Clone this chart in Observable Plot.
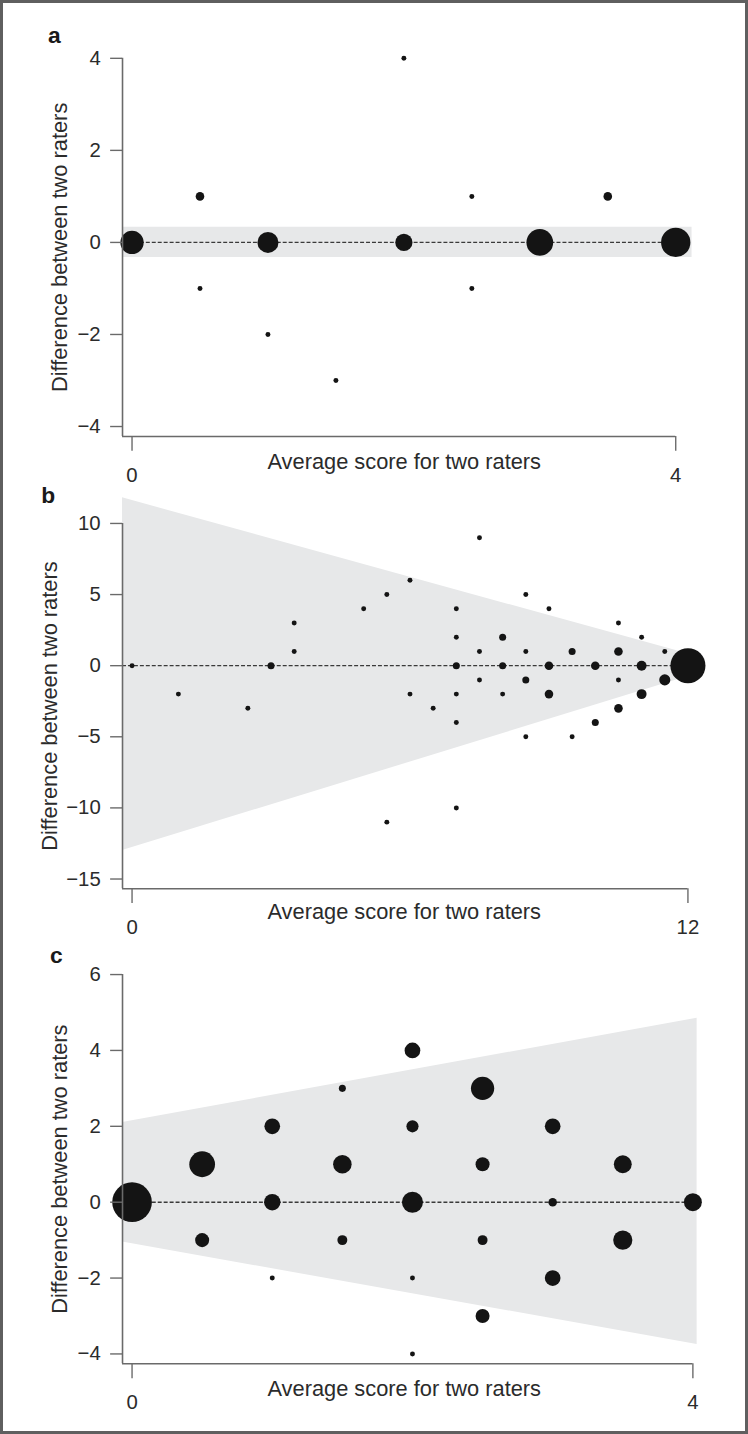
<!DOCTYPE html>
<html>
<head>
<meta charset="utf-8">
<script src="https://cdn.jsdelivr.net/npm/d3@7"></script>
<script src="https://cdn.jsdelivr.net/npm/@observablehq/plot@0.6"></script>
<style>
  html, body { margin: 0; padding: 0; background: #fff; }
  #frame { position: relative; width: 748px; height: 1434px; box-sizing: border-box; border: 3px solid #5f5f5f; overflow: hidden; background: #fff; }
  #frame svg { position: absolute; left: -3px; overflow: visible; }
</style>
</head>
<body>
<div id="frame"></div>
<script>
// ---------- Panel a ----------
const aX    = [0, 0.5, 0.5, 1, 1, 1.5, 2, 2, 2.5, 2.5, 3, 3.5, 4];
const aDiff = [0, 1, -1, 0, -2, -3, 4, 0, 1, -1, 0, 1, 0];
const aN    = [22, 3, 1, 18, 1, 1, 1, 12, 1, 1, 29, 3, 35];
const aBandX = [-0.07, 4.12];
const aUpper = [0.33, 0.33];
const aLower = [-0.33, -0.33];
const aXTicks = [0, 4];
const aYTicks = [-4, -2, 0, 2, 4];

// ---------- Panel b ----------
const bX    = [0, 1, 2.5, 3, 3.5, 3.5, 5, 5.5, 5.5, 6, 6, 6.5, 7, 7, 7, 7, 7, 7, 7.5, 7.5, 7.5, 8, 8, 8, 8.5, 8.5, 8.5, 8.5, 9, 9, 9, 9.5, 9.5, 10, 10, 10.5, 10.5, 10.5, 10.5, 11, 11, 11, 11.5, 11.5, 12];
const bDiff = [0, -2, -3, 0, 3, 1, 4, 5, -11, 6, -2, -3, 4, 2, 0, -2, -4, -10, 9, 1, -1, 2, 0, -2, 5, 1, -1, -5, 4, 0, -2, 1, -5, 0, -4, 3, 1, -1, -3, 2, 0, -2, 1, -1, 0];
const bN    = [1, 1, 1, 2, 1, 1, 1, 1, 1, 1, 1, 1, 1, 1, 2, 1, 1, 1, 1, 1, 1, 2, 2, 1, 1, 1, 2, 1, 1, 3, 3, 2, 1, 3, 2, 1, 3, 1, 3, 1, 4, 4, 1, 5, 50];
const bBandX = [-0.206, 12.37];
const bUpper = [11.8, 0.5];
const bLower = [-13.0, -0.4];
const bXTicks = [0, 12];
const bYTicks = [-15, -10, -5, 0, 5, 10];

// ---------- Panel c ----------
const cX    = [0, 0.5, 0.5, 1, 1, 1, 1.5, 1.5, 1.5, 2, 2, 2, 2, 2, 2.5, 2.5, 2.5, 2.5, 3, 3, 3, 3.5, 3.5, 4];
const cDiff = [0, 1, -1, 2, 0, -2, 3, 1, -1, 4, 2, 0, -2, -4, 3, 1, -1, -3, 2, 0, -2, 1, -1, 0];
const cN    = [64, 27, 8, 10, 11, 1, 2, 14, 4, 10, 6, 18, 1, 1, 22, 8, 4, 8, 10, 3, 10, 13, 15, 13];
const cBandX = [-0.068, 4.03];
const cUpper = [2.1, 4.85];
const cLower = [-1.05, -3.75];
const cXTicks = [0, 4];
const cYTicks = [-4, -2, 0, 2, 4, 6];

const xTitle = "Average score for two raters";
const yTitle = "Difference between two raters";

const FONT = "'Liberation Sans', Arial, 'DejaVu Sans', sans-serif";
const AXIS = "#6a6a6a";
const TEXT = "#2b2b2b";
const DOT = "#141414";
const BAND = "#e7e8e9";

const fmt = d => d < 0 ? "\u2212" + Math.abs(d) : String(d);

function panel(cfg) {
  const pts = cfg.xs.map((x, i) => ({x, d: cfg.ds[i], n: cfg.ns[i]}));
  const band = cfg.bandX.map((x, i) => ({x, hi: cfg.upper[i], lo: cfg.lower[i]}));
  const xmin = cfg.xDomain[0];
  const ymin = cfg.yDomain[0];
  const svg = Plot.plot({
    width: 748,
    height: cfg.height,
    marginLeft: cfg.mL,
    marginRight: cfg.mR,
    marginTop: cfg.mT,
    marginBottom: cfg.mB,
    style: {fontFamily: FONT, background: "transparent", overflow: "visible"},
    x: {domain: cfg.xDomain},
    y: {domain: cfg.yDomain},
    r: {type: "sqrt", domain: [0, 1], range: [0, 2.5]},
    marks: [
      Plot.areaY(band, {x: "x", y1: "lo", y2: "hi", fill: BAND}),
      Plot.ruleY([0], {x1: xmin, x2: cfg.dashEnd, stroke: "#3a3a3a", strokeWidth: 1.4, strokeDasharray: "4,2"}),
      Plot.dot(pts, {x: "x", y: "d", r: "n", fill: DOT, stroke: null}),
      Plot.ruleX([xmin], {y1: ymin, y2: cfg.yTicks[cfg.yTicks.length - 1], stroke: AXIS, strokeWidth: 1.6}),
      Plot.ruleY([ymin], {x1: xmin, x2: cfg.xTicks[cfg.xTicks.length - 1], stroke: AXIS, strokeWidth: 1.6}),
      Plot.axisY({ticks: cfg.yTicks, tickSize: 12, tickPadding: 10, tickFormat: fmt, stroke: AXIS, strokeWidth: 1.4, fill: TEXT, fontSize: 20.5, label: null}),
      Plot.axisX({ticks: cfg.xTicks, tickSize: 15, tickPadding: 16, tickFormat: fmt, stroke: AXIS, strokeWidth: 1.4, fill: TEXT, fontSize: 20.5, label: null}),
      Plot.text([xTitle], {text: d => d, frameAnchor: "bottom-left", dx: 284, dy: cfg.xTitleDy, textAnchor: "middle", lineAnchor: "middle", fontSize: 22, fill: TEXT}),
      Plot.text([yTitle], {text: d => d, frameAnchor: "left", rotate: -90, dx: cfg.yTitleDx, textAnchor: "middle", lineAnchor: "middle", fontSize: 22, fill: TEXT}),
      Plot.text([cfg.letter], {text: d => d, frameAnchor: "top-left", dx: cfg.letterDx, dy: cfg.letterDy, textAnchor: "start", lineAnchor: "bottom", fontSize: 23, fontWeight: "bold", fill: "#1a1a1a"})
    ]
  });
  svg.style.top = (cfg.top - 3) + "px";
  document.getElementById("frame").appendChild(svg);
}

panel({
  letter: "a", top: 0, height: 480, mL: 123, mR: 67.3, mT: 58.3, mB: 40.5,
  xs: aX, ds: aDiff, ns: aN, bandX: aBandX, upper: aUpper, lower: aLower,
  xDomain: [-0.07, 4], yDomain: [-4.216, 4], xTicks: aXTicks, yTicks: aYTicks,
  dashEnd: 4, xTitleDy: 26, yTitleDx: -63, letterDx: -75, letterDy: -15.6
});
panel({
  letter: "b", top: 480, height: 465, mL: 123, mR: 55, mT: 43.3, mB: 53.5,
  xs: bX, ds: bDiff, ns: bN, bandX: bBandX, upper: bUpper, lower: bLower,
  xDomain: [-0.206, 12], yDomain: [-15.68, 10], xTicks: bXTicks, yTicks: bYTicks,
  dashEnd: 12, xTitleDy: 24, yTitleDx: -73, letterDx: -82, letterDy: -20.6
});
panel({
  letter: "c", top: 945, height: 489, mL: 123, mR: 50, mT: 29.3, mB: 67.3,
  xs: cX, ds: cDiff, ns: cN, bandX: cBandX, upper: cUpper, lower: cLower,
  xDomain: [-0.068, 4], yDomain: [-4.26, 6], xTicks: cXTicks, yTicks: cYTicks,
  dashEnd: 4, xTitleDy: 25, yTitleDx: -63, letterDx: -73, letterDy: -11.6
});
</script>
</body>
</html>
